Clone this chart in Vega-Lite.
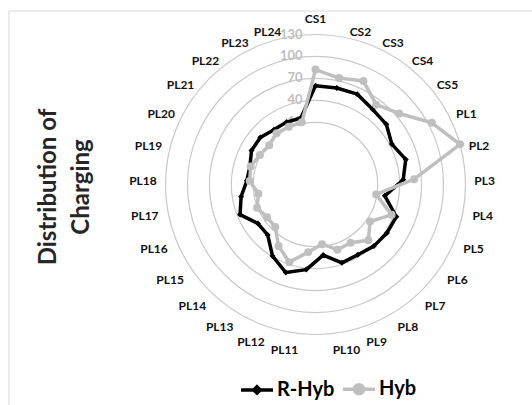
{
  "$schema": "https://vega.github.io/schema/vega-lite/v6.json",
  "width": 523.5,
  "height": 394.5,
  "autosize": "none",
  "padding": {"left": 8.5, "top": 10.5, "right": 0, "bottom": 0},
  "background": "white",
  "config": {"view": {"stroke": "#d9d9d9", "strokeWidth": 1}},
  "datasets": {
    "d": [
      {"c": "CS1", "i": 0, "s": "R-Hyb", "v": 60}, {"c": "CS2", "i": 1, "s": "R-Hyb", "v": 60},
      {"c": "CS3", "i": 2, "s": "R-Hyb", "v": 61}, {"c": "CS4", "i": 3, "s": "R-Hyb", "v": 54},
      {"c": "CS5", "i": 4, "s": "R-Hyb", "v": 52}, {"c": "PL1", "i": 5, "s": "R-Hyb", "v": 43},
      {"c": "PL2", "i": 6, "s": "R-Hyb", "v": 53}, {"c": "PL3", "i": 7, "s": "R-Hyb", "v": 45},
      {"c": "PL4", "i": 8, "s": "R-Hyb", "v": 21}, {"c": "PL5", "i": 9, "s": "R-Hyb", "v": 44},
      {"c": "PL6", "i": 10, "s": "R-Hyb", "v": 43}, {"c": "PL7", "i": 11, "s": "R-Hyb", "v": 41},
      {"c": "PL8", "i": 12, "s": "R-Hyb", "v": 37}, {"c": "PL9", "i": 13, "s": "R-Hyb", "v": 38},
      {"c": "PL10", "i": 14, "s": "R-Hyb", "v": 22}, {"c": "PL11", "i": 15, "s": "R-Hyb", "v": 42},
      {"c": "PL12", "i": 16, "s": "R-Hyb", "v": 52}, {"c": "PL13", "i": 17, "s": "R-Hyb", "v": 39},
      {"c": "PL14", "i": 18, "s": "R-Hyb", "v": 20}, {"c": "PL15", "i": 19, "s": "R-Hyb", "v": 20},
      {"c": "PL16", "i": 20, "s": "R-Hyb", "v": 36}, {"c": "PL17", "i": 21, "s": "R-Hyb", "v": 28},
      {"c": "PL18", "i": 22, "s": "R-Hyb", "v": 19}, {"c": "PL19", "i": 23, "s": "R-Hyb", "v": 18},
      {"c": "PL20", "i": 24, "s": "R-Hyb", "v": 24}, {"c": "PL21", "i": 25, "s": "R-Hyb", "v": 24},
      {"c": "PL22", "i": 26, "s": "R-Hyb", "v": 19}, {"c": "PL23", "i": 27, "s": "R-Hyb", "v": 19},
      {"c": "PL24", "i": 28, "s": "R-Hyb", "v": 18},
      {"c": "CS1", "i": 0, "s": "Hyb", "v": 82}, {"c": "CS2", "i": 1, "s": "Hyb", "v": 74},
      {"c": "CS3", "i": 2, "s": "Hyb", "v": 81}, {"c": "CS4", "i": 3, "s": "Hyb", "v": 62},
      {"c": "CS5", "i": 4, "s": "Hyb", "v": 75}, {"c": "PL1", "i": 5, "s": "Hyb", "v": 105},
      {"c": "PL2", "i": 6, "s": "Hyb", "v": 130}, {"c": "PL3", "i": 7, "s": "Hyb", "v": 60},
      {"c": "PL4", "i": 8, "s": "Hyb", "v": 9}, {"c": "PL5", "i": 9, "s": "Hyb", "v": 37},
      {"c": "PL6", "i": 10, "s": "Hyb", "v": 15}, {"c": "PL7", "i": 11, "s": "Hyb", "v": 30},
      {"c": "PL8", "i": 12, "s": "Hyb", "v": 18}, {"c": "PL9", "i": 13, "s": "Hyb", "v": 19},
      {"c": "PL10", "i": 14, "s": "Hyb", "v": 7}, {"c": "PL11", "i": 15, "s": "Hyb", "v": 18},
      {"c": "PL12", "i": 16, "s": "Hyb", "v": 37}, {"c": "PL13", "i": 17, "s": "Hyb", "v": 23},
      {"c": "PL14", "i": 18, "s": "Hyb", "v": 5}, {"c": "PL15", "i": 19, "s": "Hyb", "v": 5},
      {"c": "PL16", "i": 20, "s": "Hyb", "v": 11}, {"c": "PL17", "i": 21, "s": "Hyb", "v": 4},
      {"c": "PL18", "i": 22, "s": "Hyb", "v": 15}, {"c": "PL19", "i": 23, "s": "Hyb", "v": 17},
      {"c": "PL20", "i": 24, "s": "Hyb", "v": 11}, {"c": "PL21", "i": 25, "s": "Hyb", "v": 8},
      {"c": "PL22", "i": 26, "s": "Hyb", "v": 13}, {"c": "PL23", "i": 27, "s": "Hyb", "v": 12},
      {"c": "PL24", "i": 28, "s": "Hyb", "v": 12}
    ],
    "cats": [
      {"c": "CS1", "i": 0}, {"c": "CS2", "i": 1}, {"c": "CS3", "i": 2}, {"c": "CS4", "i": 3},
      {"c": "CS5", "i": 4}, {"c": "PL1", "i": 5}, {"c": "PL2", "i": 6}, {"c": "PL3", "i": 7},
      {"c": "PL4", "i": 8}, {"c": "PL5", "i": 9}, {"c": "PL6", "i": 10}, {"c": "PL7", "i": 11},
      {"c": "PL8", "i": 12}, {"c": "PL9", "i": 13}, {"c": "PL10", "i": 14}, {"c": "PL11", "i": 15},
      {"c": "PL12", "i": 16}, {"c": "PL13", "i": 17}, {"c": "PL14", "i": 18}, {"c": "PL15", "i": 19},
      {"c": "PL16", "i": 20}, {"c": "PL17", "i": 21}, {"c": "PL18", "i": 22}, {"c": "PL19", "i": 23},
      {"c": "PL20", "i": 24}, {"c": "PL21", "i": 25}, {"c": "PL22", "i": 26}, {"c": "PL23", "i": 27},
      {"c": "PL24", "i": 28}
    ],
    "rings": [{"ring": 10}, {"ring": 40}, {"ring": 70}, {"ring": 100}, {"ring": 130}],
    "ttl": [{"t": "Distribution of\nCharging"}]
  },
  "layer": [
    {
      "data": {"name": "rings"},
      "transform": [{"calculate": "(datum.ring + 75) / 205", "as": "rr"}],
      "mark": {"type": "point", "shape": "circle", "filled": false, "stroke": "#c8c8c8", "strokeWidth": 1.2, "opacity": 1},
      "encoding": {
        "x": {"datum": 0, "type": "quantitative", "scale": {"domain": [-2.046667, 1.443333], "nice": false, "zero": false}, "axis": null},
        "y": {"datum": 0, "type": "quantitative", "scale": {"domain": [-1.47, 1.16], "nice": false, "zero": false}, "axis": null},
        "size": {"field": "rr", "type": "quantitative", "scale": {"type": "pow", "exponent": 2, "domain": [0, 1], "range": [0, 90000]}, "legend": null}
      }
    },
    {
      "data": {"name": "rings"},
      "transform": [{"calculate": "(datum.ring + 75) / 205", "as": "rr"}],
      "mark": {"type": "text", "align": "right", "baseline": "middle", "dx": -13, "font": "Lato", "fontSize": 13, "fontWeight": "bold", "color": "#bfbfbf"},
      "encoding": {
        "x": {"datum": 0, "type": "quantitative"},
        "y": {"field": "rr", "type": "quantitative"},
        "text": {"field": "ring", "type": "quantitative"}
      }
    },
    {
      "data": {"name": "cats"},
      "transform": [
        {"filter": "datum.i >= 1 && datum.i <= 14"},
        {"calculate": "datum.i * 2 * PI / 29", "as": "t"},
        {"calculate": "1.06 * sin(datum.t)", "as": "lx"},
        {"calculate": "-0.0333 + 1.0733 * cos(datum.t)", "as": "ly"}
      ],
      "mark": {"type": "text", "align": "left", "baseline": "middle", "font": "Lato", "fontSize": 12, "fontWeight": "bold", "color": "#111111"},
      "encoding": {
        "x": {"field": "lx", "type": "quantitative"},
        "y": {"field": "ly", "type": "quantitative"},
        "text": {"field": "c", "type": "nominal"}
      }
    },
    {
      "data": {"name": "cats"},
      "transform": [
        {"filter": "datum.i >= 15"},
        {"calculate": "datum.i * 2 * PI / 29", "as": "t"},
        {"calculate": "1.06 * sin(datum.t)", "as": "lx"},
        {"calculate": "-0.0333 + 1.0733 * cos(datum.t)", "as": "ly"}
      ],
      "mark": {"type": "text", "align": "right", "baseline": "middle", "font": "Lato", "fontSize": 12, "fontWeight": "bold", "color": "#111111"},
      "encoding": {
        "x": {"field": "lx", "type": "quantitative"},
        "y": {"field": "ly", "type": "quantitative"},
        "text": {"field": "c", "type": "nominal"}
      }
    },
    {
      "data": {"name": "cats"},
      "transform": [
        {"filter": "datum.i == 0"},
        {"calculate": "0", "as": "lx"},
        {"calculate": "1.1013", "as": "ly"}
      ],
      "mark": {"type": "text", "align": "center", "baseline": "middle", "font": "Lato", "fontSize": 12, "fontWeight": "bold", "color": "#111111"},
      "encoding": {
        "x": {"field": "lx", "type": "quantitative"},
        "y": {"field": "ly", "type": "quantitative"},
        "text": {"field": "c", "type": "nominal"}
      }
    },
    {
      "data": {"name": "d"},
      "transform": [
        {"filter": "datum.s == 'R-Hyb'"},
        {"calculate": "datum.i * 2 * PI / 29", "as": "t"},
        {"calculate": "(datum.v + 75) / 205", "as": "r"},
        {"calculate": "datum.r * sin(datum.t)", "as": "px"},
        {"calculate": "datum.r * cos(datum.t)", "as": "py"}
      ],
      "mark": {"type": "line", "interpolate": "linear-closed", "strokeWidth": 3.5, "strokeJoin": "round"},
      "encoding": {
        "x": {"field": "px", "type": "quantitative"},
        "y": {"field": "py", "type": "quantitative"},
        "order": {"field": "i", "type": "quantitative"},
        "color": {
          "field": "s", "type": "nominal",
          "scale": {"domain": ["R-Hyb", "Hyb"], "range": ["#000000", "#bfbfbf"]},
          "legend": {
            "title": null, "orient": "none", "legendX": 230.5, "legendY": 360.5, "direction": "horizontal",
            "symbolSize": 1024, "symbolStrokeWidth": 3.5, "symbolOpacity": 1,
            "labelFont": "Lato", "labelFontSize": 20, "labelFontWeight": "bold", "labelColor": "#000000",
            "labelOffset": 2, "columnPadding": 1, "padding": 0,
            "encode": {"symbols": {"update": {
              "shape": {"signal": "datum.value === 'R-Hyb' ? 'M-1,0H1M-0.2,0L0,-0.2L0.2,0L0,0.2Z' : 'M-1,0H1M0.28,0A0.28,0.28,0,1,1,-0.28,0A0.28,0.28,0,1,1,0.28,0Z'"},
              "fill": {"signal": "datum.value === 'R-Hyb' ? '#000000' : '#bfbfbf'"}
            }}}
          }
        }
      }
    },
    {
      "data": {"name": "d"},
      "transform": [
        {"filter": "datum.s == 'R-Hyb'"},
        {"calculate": "datum.i * 2 * PI / 29", "as": "t"},
        {"calculate": "(datum.v + 75) / 205", "as": "r"},
        {"calculate": "datum.r * sin(datum.t)", "as": "px"},
        {"calculate": "datum.r * cos(datum.t)", "as": "py"}
      ],
      "mark": {"type": "point", "shape": "diamond", "filled": true, "size": 36, "color": "#000000", "opacity": 1},
      "encoding": {
        "x": {"field": "px", "type": "quantitative"},
        "y": {"field": "py", "type": "quantitative"}
      }
    },
    {
      "data": {"name": "d"},
      "transform": [
        {"filter": "datum.s == 'Hyb'"},
        {"calculate": "datum.i * 2 * PI / 29", "as": "t"},
        {"calculate": "(datum.v + 75) / 205", "as": "r"},
        {"calculate": "datum.r * sin(datum.t)", "as": "px"},
        {"calculate": "datum.r * cos(datum.t)", "as": "py"}
      ],
      "mark": {"type": "line", "interpolate": "linear-closed", "strokeWidth": 3.5, "strokeJoin": "round"},
      "encoding": {
        "x": {"field": "px", "type": "quantitative"},
        "y": {"field": "py", "type": "quantitative"},
        "order": {"field": "i", "type": "quantitative"},
        "color": {
          "field": "s", "type": "nominal",
          "scale": {"domain": ["R-Hyb", "Hyb"], "range": ["#000000", "#bfbfbf"]},
          "legend": {
            "title": null, "orient": "none", "legendX": 230.5, "legendY": 360.5, "direction": "horizontal",
            "symbolSize": 1024, "symbolStrokeWidth": 3.5, "symbolOpacity": 1,
            "labelFont": "Lato", "labelFontSize": 20, "labelFontWeight": "bold", "labelColor": "#000000",
            "labelOffset": 2, "columnPadding": 1, "padding": 0,
            "encode": {"symbols": {"update": {
              "shape": {"signal": "datum.value === 'R-Hyb' ? 'M-1,0H1M-0.2,0L0,-0.2L0.2,0L0,0.2Z' : 'M-1,0H1M0.28,0A0.28,0.28,0,1,1,-0.28,0A0.28,0.28,0,1,1,0.28,0Z'"},
              "fill": {"signal": "datum.value === 'R-Hyb' ? '#000000' : '#bfbfbf'"}
            }}}
          }
        }
      }
    },
    {
      "data": {"name": "d"},
      "transform": [
        {"filter": "datum.s == 'Hyb'"},
        {"calculate": "datum.i * 2 * PI / 29", "as": "t"},
        {"calculate": "(datum.v + 75) / 205", "as": "r"},
        {"calculate": "datum.r * sin(datum.t)", "as": "px"},
        {"calculate": "datum.r * cos(datum.t)", "as": "py"}
      ],
      "mark": {"type": "point", "shape": "circle", "filled": true, "size": 64, "color": "#bfbfbf", "opacity": 1},
      "encoding": {
        "x": {"field": "px", "type": "quantitative"},
        "y": {"field": "py", "type": "quantitative"}
      }
    },
    {
      "data": {"name": "ttl"},
      "mark": {"type": "text", "angle": 270, "align": "center", "baseline": "middle", "lineBreak": "\n", "lineHeight": 33, "font": "Lato", "fontSize": 24, "fontWeight": "bold", "color": "#262626"},
      "encoding": {
        "x": {"datum": -1.777, "type": "quantitative"},
        "y": {"datum": -0.0167, "type": "quantitative"},
        "text": {"field": "t", "type": "nominal"}
      }
    }
  ]
}
